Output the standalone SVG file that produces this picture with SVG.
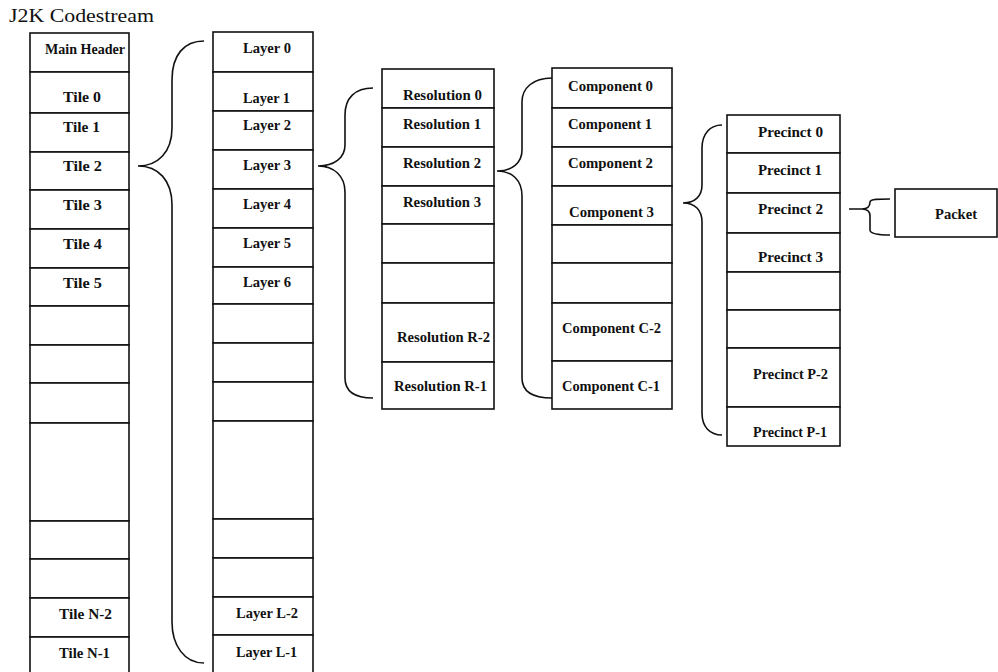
<svg xmlns="http://www.w3.org/2000/svg" width="998" height="672" viewBox="0 0 998 672">
<style>
.c{fill:#fff;stroke:#111;stroke-width:1.6}
.t{font-family:"Liberation Serif","Times New Roman",serif;font-weight:bold;font-size:14px;fill:#111}
.title{font-family:"Liberation Serif","Times New Roman",serif;font-size:18px;fill:#111}
.b{fill:none;stroke:#111;stroke-width:1.6}
</style>
<rect width="998" height="672" fill="#fff"/>
<text class="title" x="9" y="22" textLength="145" lengthAdjust="spacingAndGlyphs">J2K Codestream</text>

<g id="tiles">
<g id="main-header"><rect class="c" x="30" y="33" width="99" height="39"/><text class="t" x="45" y="54" textLength="80" lengthAdjust="spacingAndGlyphs">Main Header</text></g>
<g id="tile-0"><rect class="c" x="30" y="72" width="99" height="41"/><text class="t" x="63" y="102" textLength="38" lengthAdjust="spacingAndGlyphs">Tile 0</text></g>
<g id="tile-1"><rect class="c" x="30" y="113" width="99" height="39"/><text class="t" x="63" y="132" textLength="37" lengthAdjust="spacingAndGlyphs">Tile 1</text></g>
<g id="tile-2"><rect class="c" x="30" y="152" width="99" height="38"/><text class="t" x="63" y="171" textLength="39" lengthAdjust="spacingAndGlyphs">Tile 2</text></g>
<g id="tile-3"><rect class="c" x="30" y="190" width="99" height="39"/><text class="t" x="63" y="210" textLength="39" lengthAdjust="spacingAndGlyphs">Tile 3</text></g>
<g id="tile-4"><rect class="c" x="30" y="229" width="99" height="39"/><text class="t" x="63" y="249" textLength="39" lengthAdjust="spacingAndGlyphs">Tile 4</text></g>
<g id="tile-5"><rect class="c" x="30" y="268" width="99" height="38"/><text class="t" x="63" y="288" textLength="39" lengthAdjust="spacingAndGlyphs">Tile 5</text></g>
<g id="tile-e1"><rect class="c" x="30" y="306" width="99" height="39"/></g>
<g id="tile-e2"><rect class="c" x="30" y="345" width="99" height="38"/></g>
<g id="tile-e3"><rect class="c" x="30" y="383" width="99" height="40"/></g>
<g id="tile-e4"><rect class="c" x="30" y="423" width="99" height="98"/></g>
<g id="tile-e5"><rect class="c" x="30" y="521" width="99" height="38"/></g>
<g id="tile-e6"><rect class="c" x="30" y="559" width="99" height="39"/></g>
<g id="tile-n2"><rect class="c" x="30" y="598" width="99" height="39"/><text class="t" x="59" y="619" textLength="53" lengthAdjust="spacingAndGlyphs">Tile N-2</text></g>
<g id="tile-n1"><rect class="c" x="30" y="637" width="99" height="45"/><text class="t" x="59" y="658" textLength="51" lengthAdjust="spacingAndGlyphs">Tile N-1</text></g>
</g>

<g id="layers">
<g id="layer-0"><rect class="c" x="213" y="32" width="100" height="40"/><text class="t" x="243" y="53" textLength="48" lengthAdjust="spacingAndGlyphs">Layer 0</text></g>
<g id="layer-1"><rect class="c" x="213" y="72" width="100" height="39"/><text class="t" x="243" y="103" textLength="47" lengthAdjust="spacingAndGlyphs">Layer 1</text></g>
<g id="layer-2"><rect class="c" x="213" y="111" width="100" height="39"/><text class="t" x="243" y="130" textLength="48" lengthAdjust="spacingAndGlyphs">Layer 2</text></g>
<g id="layer-3"><rect class="c" x="213" y="150" width="100" height="39"/><text class="t" x="243" y="170" textLength="48" lengthAdjust="spacingAndGlyphs">Layer 3</text></g>
<g id="layer-4"><rect class="c" x="213" y="189" width="100" height="39"/><text class="t" x="243" y="209" textLength="48" lengthAdjust="spacingAndGlyphs">Layer 4</text></g>
<g id="layer-5"><rect class="c" x="213" y="228" width="100" height="39"/><text class="t" x="243" y="248" textLength="48" lengthAdjust="spacingAndGlyphs">Layer 5</text></g>
<g id="layer-6"><rect class="c" x="213" y="267" width="100" height="37"/><text class="t" x="243" y="287" textLength="48" lengthAdjust="spacingAndGlyphs">Layer 6</text></g>
<g id="layer-e1"><rect class="c" x="213" y="304" width="100" height="39"/></g>
<g id="layer-e2"><rect class="c" x="213" y="343" width="100" height="39"/></g>
<g id="layer-e3"><rect class="c" x="213" y="382" width="100" height="39"/></g>
<g id="layer-e4"><rect class="c" x="213" y="421" width="100" height="98"/></g>
<g id="layer-e5"><rect class="c" x="213" y="519" width="100" height="39"/></g>
<g id="layer-e6"><rect class="c" x="213" y="558" width="100" height="39"/></g>
<g id="layer-l2"><rect class="c" x="213" y="597" width="100" height="38"/><text class="t" x="236" y="618" textLength="62" lengthAdjust="spacingAndGlyphs">Layer L-2</text></g>
<g id="layer-l1"><rect class="c" x="213" y="635" width="100" height="47"/><text class="t" x="236" y="657" textLength="61" lengthAdjust="spacingAndGlyphs">Layer L-1</text></g>
</g>

<g id="resolutions">
<g id="res-0"><rect class="c" x="382" y="69" width="112" height="39"/><text class="t" x="403" y="100" textLength="79" lengthAdjust="spacingAndGlyphs">Resolution 0</text></g>
<g id="res-1"><rect class="c" x="382" y="108" width="112" height="39"/><text class="t" x="403" y="129" textLength="78" lengthAdjust="spacingAndGlyphs">Resolution 1</text></g>
<g id="res-2"><rect class="c" x="382" y="147" width="112" height="39"/><text class="t" x="403" y="168" textLength="78" lengthAdjust="spacingAndGlyphs">Resolution 2</text></g>
<g id="res-3"><rect class="c" x="382" y="186" width="112" height="38"/><text class="t" x="403" y="207" textLength="78" lengthAdjust="spacingAndGlyphs">Resolution 3</text></g>
<g id="res-e1"><rect class="c" x="382" y="224" width="112" height="39"/></g>
<g id="res-e2"><rect class="c" x="382" y="263" width="112" height="40"/></g>
<g id="res-r2"><rect class="c" x="382" y="303" width="112" height="59"/><text class="t" x="397" y="342" textLength="93" lengthAdjust="spacingAndGlyphs">Resolution R-2</text></g>
<g id="res-r1"><rect class="c" x="382" y="362" width="112" height="47"/><text class="t" x="394" y="391" textLength="93" lengthAdjust="spacingAndGlyphs">Resolution R-1</text></g>
</g>

<g id="components">
<g id="comp-0"><rect class="c" x="552" y="68" width="120" height="40"/><text class="t" x="568" y="91" textLength="85" lengthAdjust="spacingAndGlyphs">Component 0</text></g>
<g id="comp-1"><rect class="c" x="552" y="108" width="120" height="39"/><text class="t" x="568" y="129" textLength="84" lengthAdjust="spacingAndGlyphs">Component 1</text></g>
<g id="comp-2"><rect class="c" x="552" y="147" width="120" height="39"/><text class="t" x="568" y="168" textLength="85" lengthAdjust="spacingAndGlyphs">Component 2</text></g>
<g id="comp-3"><rect class="c" x="552" y="186" width="120" height="39"/><text class="t" x="569" y="217" textLength="85" lengthAdjust="spacingAndGlyphs">Component 3</text></g>
<g id="comp-e1"><rect class="c" x="552" y="225" width="120" height="38"/></g>
<g id="comp-e2"><rect class="c" x="552" y="263" width="120" height="40"/></g>
<g id="comp-c2"><rect class="c" x="552" y="303" width="120" height="58"/><text class="t" x="562" y="333" textLength="99" lengthAdjust="spacingAndGlyphs">Component C-2</text></g>
<g id="comp-c1"><rect class="c" x="552" y="361" width="120" height="48"/><text class="t" x="562" y="391" textLength="98" lengthAdjust="spacingAndGlyphs">Component C-1</text></g>
</g>

<g id="precincts">
<g id="prec-0"><rect class="c" x="727" y="115" width="113" height="38"/><text class="t" x="758" y="137" textLength="65" lengthAdjust="spacingAndGlyphs">Precinct 0</text></g>
<g id="prec-1"><rect class="c" x="727" y="153" width="113" height="40"/><text class="t" x="758" y="175" textLength="64" lengthAdjust="spacingAndGlyphs">Precinct 1</text></g>
<g id="prec-2"><rect class="c" x="727" y="193" width="113" height="40"/><text class="t" x="758" y="214" textLength="65" lengthAdjust="spacingAndGlyphs">Precinct 2</text></g>
<g id="prec-3"><rect class="c" x="727" y="233" width="113" height="39"/><text class="t" x="758" y="262" textLength="65" lengthAdjust="spacingAndGlyphs">Precinct 3</text></g>
<g id="prec-e1"><rect class="c" x="727" y="272" width="113" height="38"/></g>
<g id="prec-e2"><rect class="c" x="727" y="310" width="113" height="38"/></g>
<g id="prec-p2"><rect class="c" x="727" y="348" width="113" height="59"/><text class="t" x="753" y="379" textLength="75" lengthAdjust="spacingAndGlyphs">Precinct P-2</text></g>
<g id="prec-p1"><rect class="c" x="727" y="407" width="113" height="39"/><text class="t" x="753" y="437" textLength="74" lengthAdjust="spacingAndGlyphs">Precinct P-1</text></g>
</g>

<g id="packet"><rect class="c" x="895" y="189" width="102" height="48"/><text class="t" x="935" y="219" textLength="42" lengthAdjust="spacingAndGlyphs">Packet</text></g>

<g id="connectors">
<path class="b" d="M204 41 C184 41 172 55 172 80 L172 128 C172 152 158 166 138 166 C158 166 172 180 172 205 L172 622 C172 645 184 663 204 663"/>
<path class="b" d="M373 88 C355 88 345 98 345 115 L345 145 C345 158 334 166 318 166 L327 166 M318 166 C334 166 345 176 345 192 L345 378 C345 392 356 398 373 398"/>
<path class="b" d="M552 78 C533 78 522 88 522 102 L522 150 C522 163 512 171 497 171 C512 171 522 180 522 196 L522 378 C522 392 533 398 552 398"/>
<path class="b" d="M722 125 C710 125 702 134 702 148 L702 185 C702 196 695 203 683 203 C695 203 702 210 702 222 L702 413 C702 427 710 435 722 435"/>
<path class="b" d="M849 209 L862 209 C868 209 870 206 870 202 C870 199 880 199 890 199 M862 209 C868 209 870 212 870 216 L870 230 C870 234 880 235 890 235"/>
</g>
</svg>
